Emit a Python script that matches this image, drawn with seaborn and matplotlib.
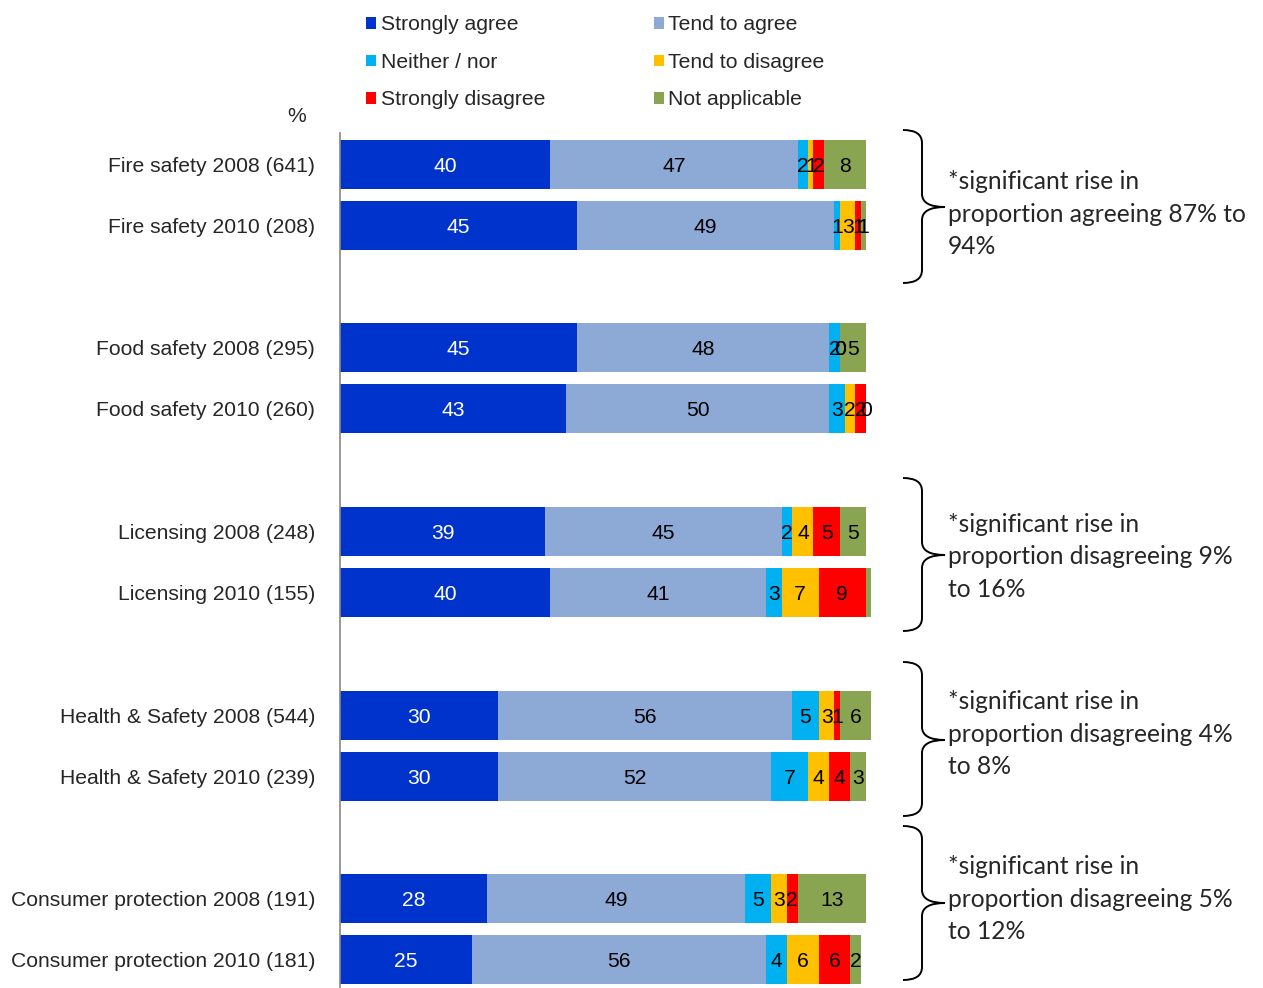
import numpy as np
import pandas as pd
import matplotlib
matplotlib.use("Agg")
import matplotlib.pyplot as plt
import seaborn as sns
from matplotlib.patches import Patch, PathPatch
from matplotlib.path import Path

# ---- data -------------------------------------------------------------
groups = [
    "Fire safety 2008 (641)", "Fire safety 2010 (208)",
    "Food safety 2008 (295)", "Food safety 2010 (260)",
    "Licensing 2008 (248)", "Licensing 2010 (155)",
    "Health & Safety 2008 (544)", "Health & Safety 2010 (239)",
    "Consumer protection 2008 (191)", "Consumer protection 2010 (181)",
]
strongly_agree    = [40, 45, 45, 43, 39, 40, 30, 30, 28, 25]
tend_agree        = [47, 49, 48, 50, 45, 41, 56, 52, 49, 56]
neither_nor       = [2, 1, 2, 3, 2, 3, 5, 7, 5, 4]
tend_disagree     = [1, 3, 0, 2, 4, 7, 3, 4, 3, 6]
strongly_disagree = [2, 1, 0, 2, 5, 9, 1, 4, 2, 6]
not_applicable    = [8, 1, 5, 0, 5, 1, 6, 3, 13, 2]

series_names = ["Strongly agree", "Tend to agree", "Neither / nor",
                "Tend to disagree", "Strongly disagree", "Not applicable"]
series_colors = ["#0033CC", "#8DA9D6", "#00B0F0", "#FFC000", "#FF0000", "#8AA552"]

notes = [
    "*significant rise in\nproportion agreeing 87% to\n94%",
    "*significant rise in\nproportion disagreeing 9%\nto 16%",
    "*significant rise in\nproportion disagreeing 4%\nto 8%",
    "*significant rise in\nproportion disagreeing 5%\nto 12%",
]

# ---- layout helpers ----------------------------------------------------
W, H = 1263, 988
FS = 15.2
sns.set_style("white")
plt.rcParams["font.family"] = ["Liberation Sans", "DejaVu Sans"]

fig = plt.figure(figsize=(W / 100, H / 100), dpi=100)


def fx(px):
    return px / W


def fy(py):
    return 1 - py / H


# category order with empty spacer rows between topics
order = []
for i in range(0, len(groups), 2):
    order += [groups[i], groups[i + 1]]
    if i + 2 < len(groups):
        order.append(" " * (i // 2 + 1))

values = np.array([strongly_agree, tend_agree, neither_nor,
                   tend_disagree, strongly_disagree, not_applicable], dtype=float)
cum = np.cumsum(values, axis=0)

ax = fig.add_axes([fx(340), fy(990.6), fx(340 + 5.26 * 105) - fx(340), fy(133.4) - fy(990.6)])

# stacked bars: draw cumulative totals from the outermost layer inwards
for k in range(len(series_names) - 1, -1, -1):
    df = pd.DataFrame({"category": groups, "value": cum[k]})
    sns.barplot(data=df, x="value", y="category", order=order, orient="h",
                color=series_colors[k], saturation=1, width=0.8,
                errorbar=None, ax=ax, linewidth=0)

# value labels centred in each segment
hidden = {(5, 5)}
pos = {g: order.index(g) for g in groups}
for k in range(len(series_names)):
    for i, g in enumerate(groups):
        if (i, k) in hidden:
            continue
        v = values[k, i]
        xc = cum[k, i] - v / 2
        ax.text(xc, pos[g], f"{int(v)}", ha="center", va="center_baseline",
                fontsize=FS, color="white" if k == 0 else "black")

ax.set_xlim(0, 105)
ax.set_ylim(len(order) - 0.5, -0.5)
ax.set_xlabel("")
ax.set_ylabel("")
ax.xaxis.set_visible(False)
for s in ["top", "right", "bottom"]:
    ax.spines[s].set_visible(False)
ax.spines["left"].set_color("#868686")
ax.spines["left"].set_linewidth(1.2)

ax.set_yticks(range(len(order)))
ax.set_yticklabels(order, fontsize=FS)
ax.set_yticks(np.arange(-0.5, len(order), 1), minor=True)
ax.tick_params(axis="y", which="major", length=0, pad=18)
ax.tick_params(axis="y", which="minor", length=6, width=1.2, color="#868686", direction="out")

fig.text(fx(297), fy(117), "%", ha="center", va="center", fontsize=FS)

# legend (two columns, filled column by column)
handles = [Patch(facecolor=c, edgecolor="none") for c in series_colors]
leg_order = [0, 2, 4, 1, 3, 5]
fig.legend([handles[i] for i in leg_order], [series_names[i] for i in leg_order],
           ncol=2, loc="upper left", bbox_to_anchor=(fx(358), fy(7)),
           frameon=False, fontsize=FS, handlelength=0.47, handleheight=0.47,
           handletextpad=0.2, labelspacing=0.875, columnspacing=5.15, borderaxespad=0)


# curly braces with notes
def brace(ytop, ybot, ytip, x0=903, xs=922, xt=945, r=13):
    verts = [(x0, ytop), (xs, ytop), (xs, ytop + r),
             (xs, ytip - r), (xs, ytip), (xt, ytip),
             (xs, ytip), (xs, ytip + r),
             (xs, ybot - r), (xs, ybot), (x0, ybot)]
    codes = [Path.MOVETO, Path.CURVE3, Path.CURVE3,
             Path.LINETO, Path.CURVE3, Path.CURVE3,
             Path.CURVE3, Path.CURVE3,
             Path.LINETO, Path.CURVE3, Path.CURVE3]
    verts = [(fx(a), fy(b)) for a, b in verts]
    fig.add_artist(PathPatch(Path(verts, codes), transform=fig.transFigure,
                             facecolor="none", edgecolor="black", lw=1.4))


brace_spans = [(130, 283, 207), (478, 631, 555), (662, 816, 740), (826, 980, 903)]
note_mid = [214, 557, 734, 899]
for (yt, yb, ytip), ym, txt in zip(brace_spans, note_mid, notes):
    brace(yt, yb, ytip)
    fig.text(fx(948), fy(ym), txt, ha="left", va="center", fontsize=17.7,
             family=["Lato", "DejaVu Sans"], linespacing=1.5)

fig.savefig("out.png", dpi=100)
